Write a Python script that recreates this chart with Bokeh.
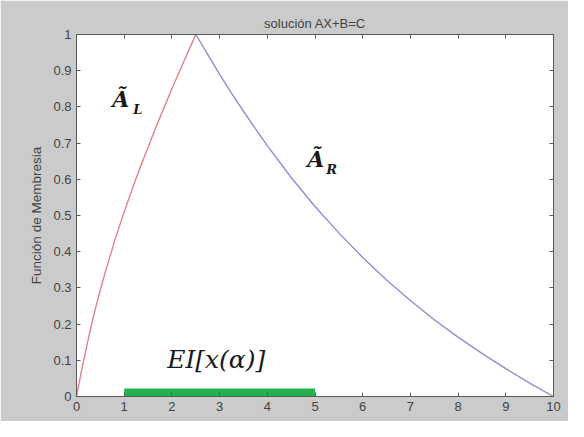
from bokeh.plotting import figure
from bokeh.models import LinearAxis, Range1d, FixedTicker, Label, CustomJSTickFormatter
from bokeh.embed import file_html
from bokeh.resources import INLINE

# ---- data ----
left_x = [0, 0.1, 0.2, 0.3, 0.4, 0.5, 0.6, 0.8, 1.0, 1.2, 1.4, 1.6, 1.8, 2.0, 2.2, 2.4, 2.5]
left_y = [0, 0.068, 0.13, 0.19, 0.245, 0.295, 0.342, 0.43, 0.51, 0.585, 0.655, 0.722, 0.787, 0.85, 0.91, 0.97, 1.0]
right_x = [2.5, 2.75, 3, 3.25, 3.5, 3.75, 4, 4.5, 5, 5.5, 6, 6.5, 7, 7.5, 8, 8.5, 9, 9.5, 10]
right_y = [1.0, 0.945, 0.89, 0.838, 0.788, 0.74, 0.693, 0.605, 0.525, 0.452, 0.384, 0.322, 0.265, 0.212, 0.164, 0.119, 0.077, 0.037, 0.0]
bar_x = [1, 5]
bar_y = [0.011, 0.011]
x_ticks = [0, 1, 2, 3, 4, 5, 6, 7, 8, 9, 10]
y_ticks = [0, 0.1, 0.2, 0.3, 0.4, 0.5, 0.6, 0.7, 0.8, 0.9, 1.0]
y_tick_labels = ["0", "0.1", "0.2", "0.3", "0.4", "0.5", "0.6", "0.7", "0.8", "0.9", "1"]
title_text = "solución AX+B=C"
y_label = "Función de Membresia"

BG = "#cbcbcb"
AX = "#5a5a5a"
TXT = "#444444"

p = figure(width=568, height=421, x_range=Range1d(0, 10), y_range=Range1d(0, 1),
           output_backend="svg", toolbar_location=None,
           min_border_left=76, min_border_right=15, min_border_top=34, min_border_bottom=25,
           background_fill_color="white", border_fill_color=BG, title=title_text)
p.outline_line_color = AX
p.grid.visible = False

p.title.align = "center"
p.title.text_font = "Liberation Sans"
p.title.text_font_size = "13px"
p.title.text_font_style = "normal"
p.title.text_color = TXT
p.title.standoff = 7

def style_axis(ax):
    ax.axis_line_color = AX
    ax.major_tick_line_color = AX
    ax.major_tick_in = 4
    ax.major_tick_out = 0
    ax.minor_tick_line_color = None
    ax.major_label_text_font = "Liberation Sans"
    ax.major_label_text_font_size = "13px"
    ax.major_label_text_color = TXT
    ax.major_label_standoff = 5

style_axis(p.xaxis[0])
p.xaxis[0].ticker = FixedTicker(ticks=x_ticks)
style_axis(p.yaxis[0])
p.yaxis[0].ticker = FixedTicker(ticks=y_ticks)
p.yaxis[0].major_label_overrides = {t: l for t, l in zip(y_ticks, y_tick_labels)}
p.yaxis[0].axis_label = y_label
p.yaxis[0].axis_label_text_font = "Liberation Sans"
p.yaxis[0].axis_label_text_font_size = "13.5px"
p.yaxis[0].axis_label_text_font_style = "normal"
p.yaxis[0].axis_label_text_color = TXT
p.yaxis[0].axis_label_standoff = 6

blank = CustomJSTickFormatter(code="return ''")
top_ax = LinearAxis(ticker=FixedTicker(ticks=x_ticks), formatter=blank)
style_axis(top_ax)
top_ax.major_label_standoff = 0
right_ax = LinearAxis(ticker=FixedTicker(ticks=y_ticks), formatter=blank)
style_axis(right_ax)
right_ax.major_label_standoff = 0
p.add_layout(top_ax, "above")
p.add_layout(right_ax, "right")

p.line(left_x, left_y, line_color="#e2808c", line_width=1.4)
p.line(right_x, right_y, line_color="#8e8ed2", line_width=1.4)
p.line(bar_x, bar_y, line_color="#22b14c", line_width=8, line_cap="butt")

def lab(x, y, text, size, style, xo=0, yo=0, font="DejaVu Serif"):
    p.add_layout(Label(x=x, y=y, x_offset=xo, y_offset=yo, text=text, text_font=font,
                       text_font_size=size, text_font_style=style, text_color="#1a1a1a"))

lab(0.75, 0.786, "Ã", "22px", "bold italic")
lab(0.75, 0.786, "L", "13px", "bold italic", xo=21, yo=-5)
lab(4.84, 0.62, "Ã", "22px", "bold italic")
lab(4.84, 0.62, "R", "13px", "bold italic", xo=19, yo=-5)
lab(1.9, 0.061, "EI[x(α)]", "25px", "italic")

open("out.html", "w").write(file_html(p, INLINE))
